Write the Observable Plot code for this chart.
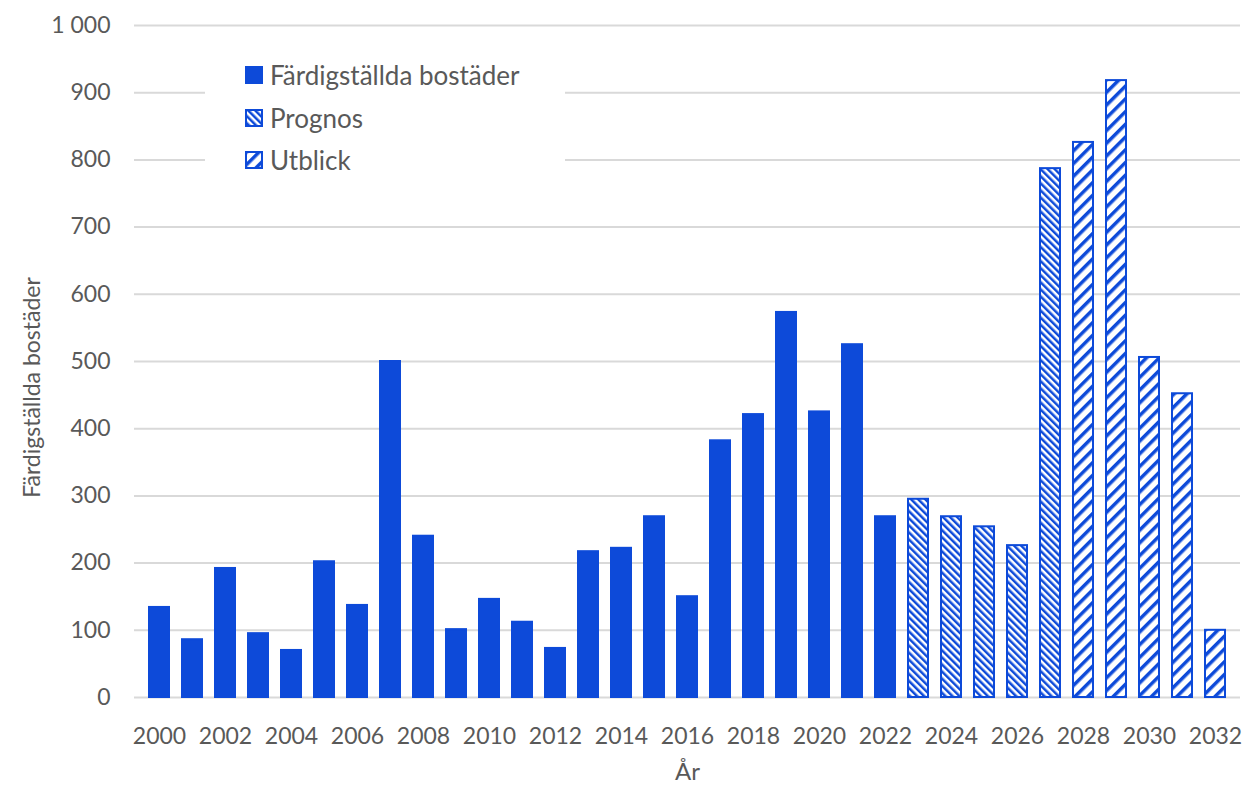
<!DOCTYPE html>
<html><head><meta charset="utf-8">
<script src="https://cdn.jsdelivr.net/npm/d3@7"></script>
<script src="https://cdn.jsdelivr.net/npm/@observablehq/plot@0.6"></script>
<style>
body{margin:0;background:#fff;font-family:Lato,"Open Sans",sans-serif;}
#wrap{position:relative;width:1255px;height:792px;overflow:hidden;}
#legend{position:absolute;left:205px;top:52px;width:360px;height:128px;background:#fff;}
.item{position:absolute;left:40px;height:30px;display:flex;align-items:center;font-size:26px;color:#595959;}
.item svg{margin-right:7px;}
</style></head>
<body><div id="wrap"></div>
<script>
const years = [2000,2001,2002,2003,2004,2005,2006,2007,2008,2009,2010,2011,2012,2013,2014,2015,2016,2017,2018,2019,2020,2021,2022,2023,2024,2025,2026,2027,2028,2029,2030,2031,2032];
const values = [134,86,192,95,70,202,137,500,240,101,146,112,73,217,222,269,150,382,421,573,425,525,269,295,269,254,226,787,826,918,506,452,100];
const seriesNames = ["Färdigställda bostäder","Prognos","Utblick"];
const seriesOf = ["Färdigställda bostäder","Färdigställda bostäder","Färdigställda bostäder","Färdigställda bostäder","Färdigställda bostäder","Färdigställda bostäder","Färdigställda bostäder","Färdigställda bostäder","Färdigställda bostäder","Färdigställda bostäder","Färdigställda bostäder","Färdigställda bostäder","Färdigställda bostäder","Färdigställda bostäder","Färdigställda bostäder","Färdigställda bostäder","Färdigställda bostäder","Färdigställda bostäder","Färdigställda bostäder","Färdigställda bostäder","Färdigställda bostäder","Färdigställda bostäder","Färdigställda bostäder","Prognos","Prognos","Prognos","Prognos","Prognos","Utblick","Utblick","Utblick","Utblick","Utblick"];
const yTicks = [0,100,200,300,400,500,600,700,800,900,1000];
const xTicks = [2000,2002,2004,2006,2008,2010,2012,2014,2016,2018,2020,2022,2024,2026,2028,2030,2032];
const yLabel = "Färdigställda bostäder";
const xLabel = "År";

const BLUE = "#0d4ad9";
const GREY = "#595959";
const fills = [BLUE, "url(#pat-prognos)", "url(#pat-utblick)"];
const data = years.map((y, i) => ({year: y, value: values[i], series: seriesOf[i]}));
const fmt = d3.formatLocale({thousands: "\u00a0", grouping: [3], decimal: ",", currency: ["", ""]}).format(",d");

const chart = Plot.plot({
  width: 1255,
  height: 792,
  marginLeft: 134,
  marginRight: 15,
  marginTop: 25,
  marginBottom: 95,
  style: {fontFamily: "Lato, 'Open Sans', sans-serif", fontSize: "24px", color: GREY, background: "#fff"},
  x: {type: "band", domain: years, paddingInner: 0.4, paddingOuter: 0.25, label: null},
  y: {domain: [0, 1000], label: null},
  color: {domain: seriesNames, range: fills},
  marks: [
    Plot.ruleY(yTicks, {stroke: "#d9d9d9", strokeWidth: 2}),
    Plot.barY(data, {x: "year", y: "value", fill: "series", stroke: BLUE, strokeWidth: 2}),
    Plot.axisY(yTicks, {tickSize: 0, tickPadding: 24, tickFormat: fmt, fontSize: 23, fill: GREY,
      label: null}),
    Plot.axisX(xTicks, {tickSize: 0, tickPadding: 30, tickFormat: d => String(d), fontSize: 23, fill: GREY,
      label: null}),
    Plot.text([yLabel], {frameAnchor: "left", textAnchor: "middle", dx: -102, dy: 26, rotate: -90, fontSize: 23, fill: GREY}),
    Plot.text([xLabel], {frameAnchor: "bottom", dy: 82, fontSize: 24, fill: GREY})
  ]
});

const svg = d3.select(chart);
const defs = svg.insert("defs", ":first-child");
const p1 = defs.append("pattern").attr("id", "pat-prognos").attr("patternUnits", "userSpaceOnUse")
  .attr("width", 5).attr("height", 5).attr("patternTransform", "rotate(-45)");
p1.append("rect").attr("width", 5).attr("height", 5).attr("fill", "#fff");
p1.append("rect").attr("width", 2.5).attr("height", 5).attr("fill", BLUE);
const p2 = defs.append("pattern").attr("id", "pat-utblick").attr("patternUnits", "userSpaceOnUse")
  .attr("width", 9).attr("height", 9).attr("patternTransform", "rotate(45)");
p2.append("rect").attr("width", 9).attr("height", 9).attr("fill", "#fff");
p2.append("rect").attr("width", 3.5).attr("height", 9).attr("fill", BLUE);

const wrap = document.getElementById("wrap");
wrap.appendChild(chart);

// legend overlay
const legend = document.createElement("div");
legend.id = "legend";
seriesNames.forEach((name, i) => {
  const item = document.createElement("div");
  item.className = "item";
  item.style.top = (8 + i * 42.5) + "px";
  item.innerHTML = `<svg width="18" height="18"><rect x="1" y="1" width="16" height="16" fill="${fills[i]}" stroke="${BLUE}" stroke-width="2"/></svg><span>${name}</span>`;
  legend.appendChild(item);
});
wrap.appendChild(legend);
</script>
</body></html>
